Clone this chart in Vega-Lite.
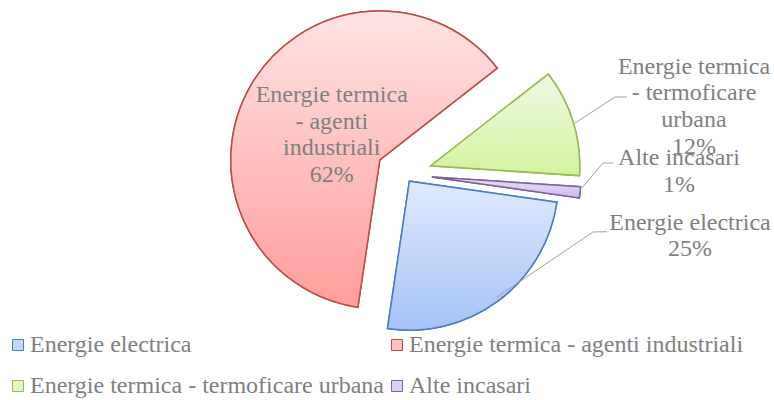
{
  "$schema": "https://vega.github.io/schema/vega-lite/v6.json",
  "width": 740,
  "height": 348,
  "padding": {"left": 34, "top": 0, "right": 0, "bottom": 52},
  "autosize": {"type": "none"},
  "background": "white",
  "config": {"view": {"stroke": null}},
  "data": {
    "values": [
      {"name": "Energie electrica", "v": 25.1, "ord": 0, "wrap": "Energie electrica"},
      {"name": "Energie termica - agenti industriali", "v": 62.1, "ord": 1, "wrap": "Energie termica\n- agenti\nindustriali"},
      {"name": "Energie termica - termoficare urbana", "v": 11.6, "ord": 2, "wrap": "Energie termica\n- termoficare\nurbana"},
      {"name": "Alte incasari", "v": 1.2, "ord": 3, "wrap": "Alte incasari"}
    ]
  },
  "transform": [
    {"stack": "v", "groupby": [], "sort": [{"field": "ord", "order": "ascending"}], "as": ["v0", "v1"]},
    {"calculate": "datum.wrap + '\\n' + format(datum.v, '.0f') + '%'", "as": "lbl"}
  ],
  "layer": [
    {
      "mark": {
        "type": "arc",
        "outerRadius": 149,
        "strokeWidth": 1.5,
        "x": {"expr": "width/2 + (datum.ord == 0 ? 9 : 28) * sin(1.7122 + PI * (datum.v0 + datum.v1) / 100)"},
        "y": {"expr": "height/2 - (datum.ord == 0 ? 9 : 28) * cos(1.7122 + PI * (datum.v0 + datum.v1) / 100)"}
      },
      "encoding": {
        "theta": {"field": "v0", "type": "quantitative", "stack": null, "scale": {"domain": [0, 100], "range": [1.7122, 7.9954]}},
        "theta2": {"field": "v1"},
        "color": {
          "field": "name", "type": "nominal",
          "scale": {
            "domain": ["Energie electrica", "Energie termica - agenti industriali", "Energie termica - termoficare urbana", "Alte incasari"],
            "range": ["#c3d7fa", "#ffc2c2", "#e3f7c6", "#ddd0f0"]
          },
          "legend": {
            "orient": "none", "legendX": -28, "legendY": 333, "columns": 2, "direction": "horizontal", "title": null, "padding": 0,
            "labelFont": "Liberation Serif", "labelFontSize": 24, "labelColor": "#7f7f7f", "labelLimit": 0,
            "symbolType": "square", "symbolSize": 121, "symbolStrokeWidth": 1,
            "columnPadding": 0, "rowPadding": 17, "labelOffset": 0
          }
        },
        "stroke": {
          "field": "name", "type": "nominal",
          "scale": {
            "domain": ["Energie electrica", "Energie termica - agenti industriali", "Energie termica - termoficare urbana", "Alte incasari"],
            "range": ["#4a7ebb", "#be4b48", "#98b954", "#7d60a0"]
          }
        }
      }
    },
    {
      "mark": {
        "type": "arc",
        "outerRadius": 149,
        "strokeWidth": 1.5,
        "fill": {"expr": "{gradient: 'linear', x1: 0, y1: 0, x2: 0, y2: 1, stops: [{offset: 0, color: ['#e0eafe', '#ffe3e3', '#eff9e2', '#ece3f7'][datum.ord]}, {offset: 1, color: ['#a5c3f6', '#ff9d9c', '#d3f3a0', '#cdb9ea'][datum.ord]}]}"},
        "x": {"expr": "width/2 + (datum.ord == 0 ? 9 : 28) * sin(1.7122 + PI * (datum.v0 + datum.v1) / 100)"},
        "y": {"expr": "height/2 - (datum.ord == 0 ? 9 : 28) * cos(1.7122 + PI * (datum.v0 + datum.v1) / 100)"}
      },
      "encoding": {
        "theta": {"field": "v0", "type": "quantitative", "stack": null},
        "theta2": {"field": "v1"},
        "stroke": {"field": "name", "type": "nominal"}
      }
    },
    {
      "transform": [{"filter": "datum.ord != 1"}],
      "mark": {"type": "rule", "stroke": "#a0a0a0", "strokeWidth": 1},
      "encoding": {
        "x": {"value": {"expr": "width/2 + [154.2, 0, 178.4, 178.5][datum.ord] * sin(1.7122 + PI * (datum.v0 + datum.v1) / 100 + [-0.4, 0, 0.5, -1.46][datum.ord] * PI / 180)"}},
        "y": {"value": {"expr": "height/2 - [154.2, 0, 178.4, 178.5][datum.ord] * cos(1.7122 + PI * (datum.v0 + datum.v1) / 100 + [-0.4, 0, 0.5, -1.46][datum.ord] * PI / 180)"}},
        "x2": {"value": {"expr": "width/2 + [197.7, 0, 224.6, 199.3][datum.ord] * sin(1.7122 + PI * (datum.v0 + datum.v1) / 100 + [-36.24, 0, -2.95, -9.12][datum.ord] * PI / 180)"}},
        "y2": {"value": {"expr": "height/2 - [197.7, 0, 224.6, 199.3][datum.ord] * cos(1.7122 + PI * (datum.v0 + datum.v1) / 100 + [-36.24, 0, -2.95, -9.12][datum.ord] * PI / 180)"}}
      }
    },
    {
      "transform": [{"filter": "datum.ord != 1"}],
      "mark": {"type": "rule", "stroke": "#a0a0a0", "strokeWidth": 1},
      "encoding": {
        "x": {"value": {"expr": "width/2 + [197.7, 0, 224.6, 199.3][datum.ord] * sin(1.7122 + PI * (datum.v0 + datum.v1) / 100 + [-36.24, 0, -2.95, -9.12][datum.ord] * PI / 180)"}},
        "y": {"value": {"expr": "height/2 - [197.7, 0, 224.6, 199.3][datum.ord] * cos(1.7122 + PI * (datum.v0 + datum.v1) / 100 + [-36.24, 0, -2.95, -9.12][datum.ord] * PI / 180)"}},
        "x2": {"value": {"expr": "width/2 + [211.1, 0, 235.9, 209.3][datum.ord] * sin(1.7122 + PI * (datum.v0 + datum.v1) / 100 + [-37.4, 0, -1.95, -8.96][datum.ord] * PI / 180)"}},
        "y2": {"value": {"expr": "height/2 - [211.1, 0, 235.9, 209.3][datum.ord] * cos(1.7122 + PI * (datum.v0 + datum.v1) / 100 + [-37.4, 0, -1.95, -8.96][datum.ord] * PI / 180)"}}
      }
    },
    {
      "mark": {
        "type": "text",
        "font": "Liberation Serif",
        "fontSize": 24,
        "fill": "#7f7f7f",
        "align": "center",
        "baseline": "middle",
        "lineBreak": "\n",
        "lineHeight": 26.7,
        "theta": {"expr": "1.7122 + PI * (datum.v0 + datum.v1) / 100 + [-0.7617, 0.3026, -0.0559, -0.1621][datum.ord]"},
        "radius": {"expr": "[290.1, 107.1, 309.2, 275.5][datum.ord]"}
      },
      "encoding": {
        "text": {"field": "lbl"}
      }
    }
  ]
}
